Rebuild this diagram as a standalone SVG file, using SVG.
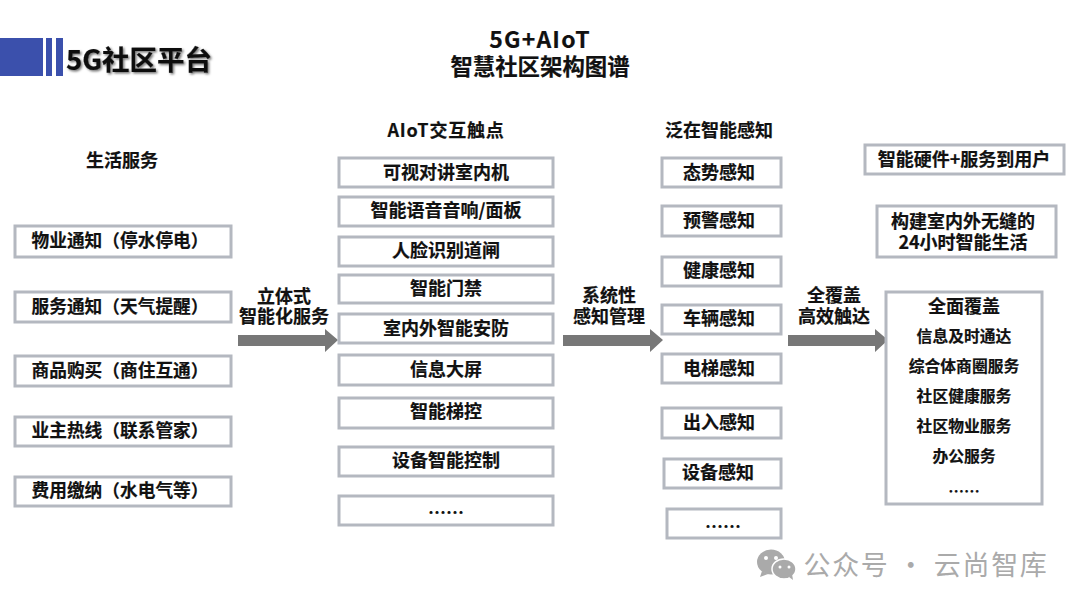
<svg xmlns="http://www.w3.org/2000/svg" width="1080" height="608" viewBox="0 0 1080 608">
<style>
text{font-family:"Noto Sans CJK SC","Liberation Sans",sans-serif;font-weight:700;font-size:18px;fill:#111;text-anchor:middle;stroke:#111;stroke-width:.2}
.b{fill:#fff;stroke:#b4b8c0;stroke-width:3}
.l{font-size:17.7px}
.p{font-family:"Noto Sans CJK TC","Liberation Sans",sans-serif}
.s{font-size:15.8px}
.a{fill:#777}
.w{fill:#aaa;stroke:none;font-weight:400;font-size:27px;letter-spacing:1.7px}
</style>
<defs><filter id="sh" x="-10%" y="-10%" width="125%" height="130%"><feDropShadow dx="1.5" dy="1.5" stdDeviation="1" flood-color="#000" flood-opacity=".55"/></filter></defs>
<g id="header">
<rect x="0" y="38" width="43" height="38" fill="#3b50ac"/><rect x="46" y="38" width="6" height="38" fill="#3b50ac"/><rect x="56" y="38" width="7" height="38" fill="#3b50ac"/>
<text x="139" y="70" style="font-size:27.5px" filter="url(#sh)">5G社区平台</text>
<text x="540" y="48" style="font-size:23px;letter-spacing:1.2px">5G+AIoT</text>
<text x="540" y="75" style="font-size:22.4px">智慧社区架构图谱</text>
</g>
<g id="connectors">
<path class="a" d="M238 335H325V329L338 340L325 352V346H238Z"/>
<path class="a" d="M563 335H650V329L663 340L650 352V346H563Z"/>
<path class="a" d="M788 335H875V329L888 340L875 352V346H788Z"/>
</g>
<g id="col-life">
<text x="122" y="167">生活服务</text>
<g id="l1"><rect class="b" x="15" y="226" width="216" height="31"/><text x="120" y="247" class="l">物业通知<tspan class="p">（</tspan>停水停电<tspan class="p">）</tspan></text></g>
<g id="l2"><rect class="b" x="15" y="292" width="216" height="30"/><text x="120" y="313" class="l">服务通知<tspan class="p">（</tspan>天气提醒<tspan class="p">）</tspan></text></g>
<g id="l3"><rect class="b" x="15" y="356" width="216" height="30"/><text x="120" y="377" class="l">商品购买<tspan class="p">（</tspan>商住互通<tspan class="p">）</tspan></text></g>
<g id="l4"><rect class="b" x="15" y="417" width="216" height="29"/><text x="120" y="437" class="l">业主热线<tspan class="p">（</tspan>联系管家<tspan class="p">）</tspan></text></g>
<g id="l5"><rect class="b" x="15" y="477" width="216" height="29"/><text x="120" y="497" class="l">费用缴纳<tspan class="p">（</tspan>水电气等<tspan class="p">）</tspan></text></g>
</g>
<g id="labels">
<text x="284" y="303">立体式</text><text x="284" y="323">智能化服务</text>
<text x="609" y="302">系统性</text><text x="609" y="323">感知管理</text>
<text x="834" y="302">全覆盖</text><text x="834" y="323">高效触达</text>
</g>
<g id="col-aiot">
<text x="446" y="137" style="letter-spacing:.8px">AIoT交互触点</text>
<g id="m1"><rect class="b" x="339" y="158" width="214" height="29"/><text x="446" y="179">可视对讲室内机</text></g>
<g id="m2"><rect class="b" x="339" y="197" width="214" height="29"/><text x="446" y="217">智能语音音响/面板</text></g>
<g id="m3"><rect class="b" x="339" y="237" width="214" height="29"/><text x="446" y="257">人脸识别道闸</text></g>
<g id="m4"><rect class="b" x="339" y="275" width="214" height="28"/><text x="446" y="295">智能门禁</text></g>
<g id="m5"><rect class="b" x="339" y="314" width="214" height="29"/><text x="446" y="335">室内外智能安防</text></g>
<g id="m6"><rect class="b" x="339" y="355" width="214" height="30"/><text x="446" y="376">信息大屏</text></g>
<g id="m7"><rect class="b" x="339" y="398" width="214" height="30"/><text x="446" y="418">智能梯控</text></g>
<g id="m8"><rect class="b" x="339" y="447" width="214" height="29"/><text x="446" y="467">设备智能控制</text></g>
<g id="m9"><rect class="b" x="339" y="496" width="214" height="29"/><text x="446" y="519">……</text></g>
</g>
<g id="col-sense">
<text x="719" y="137">泛在智能感知</text>
<g id="s1"><rect class="b" x="662" y="158" width="119" height="29"/><text x="719" y="179">态势感知</text></g>
<g id="s2"><rect class="b" x="662" y="206" width="119" height="30"/><text x="719" y="227">预警感知</text></g>
<g id="s3"><rect class="b" x="662" y="257" width="119" height="29"/><text x="719" y="277">健康感知</text></g>
<g id="s4"><rect class="b" x="662" y="305" width="119" height="29"/><text x="719" y="325">车辆感知</text></g>
<g id="s5"><rect class="b" x="662" y="354" width="119" height="29"/><text x="719" y="375">电梯感知</text></g>
<g id="s6"><rect class="b" x="662" y="408" width="119" height="30"/><text x="719" y="429">出入感知</text></g>
<g id="s7"><rect class="b" x="664" y="459" width="117" height="29"/><text x="718" y="479">设备感知</text></g>
<g id="s8"><rect class="b" x="667" y="509" width="114" height="29"/><text x="723" y="533">……</text></g>
</g>
<g id="col-user">
<g id="u1"><rect class="b" x="865" y="145" width="199" height="29"/><text x="964" y="166">智能硬件+服务到用户</text></g>
<g id="u2"><rect class="b" x="877" y="206" width="179" height="51"/><text x="963" y="228">构建室内外无缝的</text><text x="963" y="249">24小时智能生活</text></g>
<g id="u3"><rect class="b" x="886" y="292" width="156" height="212"/>
<text x="964" y="313">全面覆盖</text>
<text x="964" y="342" class="s">信息及时通达</text>
<text x="964" y="372" class="s">综合体商圈服务</text>
<text x="964" y="402" class="s">社区健康服务</text>
<text x="964" y="432" class="s">社区物业服务</text>
<text x="964" y="462" class="s">办公服务</text>
<text x="964" y="497" class="s">……</text></g>
</g>
<g id="watermark">
<ellipse cx="771" cy="562" rx="14" ry="12.5" fill="#aaa"/><path d="M762 571l-2 6 8-3z" fill="#aaa"/>
<ellipse cx="784" cy="569" rx="12" ry="10" fill="#aaa" stroke="#fff" stroke-width="1.5"/><path d="M789 577l4 3-1-6z" fill="#aaa"/>
<circle cx="766" cy="558" r="2" fill="#fff"/><circle cx="776" cy="558" r="2" fill="#fff"/><circle cx="780" cy="567" r="1.5" fill="#fff"/><circle cx="789" cy="567" r="1.5" fill="#fff"/>
<text x="926" y="575" class="w">公众号 · 云尚智库</text>
</g>
</svg>
